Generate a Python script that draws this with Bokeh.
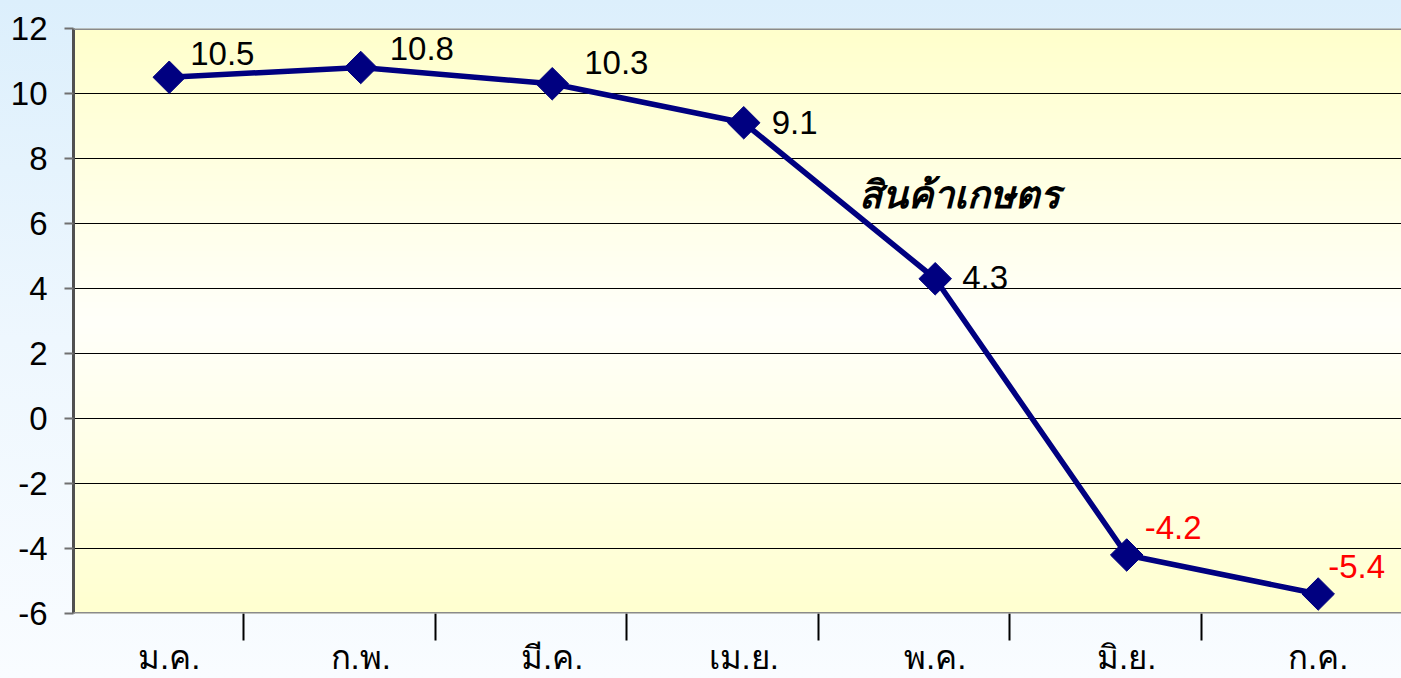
import numpy as np
from bokeh.plotting import figure
from bokeh.models import Range1d, FixedTicker, Span, Label, ColumnDataSource
from bokeh.core.properties import value
from bokeh.embed import file_html
from bokeh.resources import INLINE

# ---- data ----
months = ["ม.ค.", "ก.พ.", "มี.ค.", "เม.ย.", "พ.ค.", "มิ.ย.", "ก.ค."]
growth = [10.5, 10.8, 10.3, 9.1, 4.3, -4.2, -5.4]
labels = ["10.5", "10.8", "10.3", "9.1", "4.3", "-4.2", "-5.4"]
series_name = "สินค้าเกษตร"
y_ticks = [-6, -4, -2, 0, 2, 4, 6, 8, 10, 12]

# ---- label layout (screen pixels) ----
label_dx = [21, 29, 32, 28, 27, 18, 10]
label_dy = [-24, -19, -21, 0, -1, -28, -28]

xs = list(range(len(months)))
label_colors = ["black" if v >= 0 else "#ff0000" for v in growth]

src = ColumnDataSource(dict(x=xs, y=growth, lab=labels, dx=label_dx, dy=label_dy, col=label_colors))

p = figure(width=1401, height=678, output_backend="svg", toolbar_location=None,
           x_range=Range1d(-0.5, 6.435), y_range=Range1d(-6, 12),
           min_border_left=73, min_border_right=0, min_border_top=28, min_border_bottom=65)

p.styles = {"background": "linear-gradient(to bottom, #dceffc 0%, #eef7fe 50%, #f9fcff 100%)"}
p.border_fill_alpha = 0
p.background_fill_alpha = 0
p.outline_line_color = None

# plot-area gradient (yellow top / near-white middle / yellow bottom)
n = 300
t = np.linspace(0, 1, n)  # 0 = bottom (-6), 1 = top (12)
mid = 0.5
blue = np.where(t < mid, 208 + (250 - 208) * (t / mid), 250 - (250 - 204) * ((t - mid) / (1 - mid)))
img = np.zeros((n, 1), dtype=np.uint32)
view = img.view(dtype=np.uint8).reshape((n, 1, 4))
view[:, 0, 0] = 255
view[:, 0, 1] = 255
view[:, 0, 2] = blue.astype(np.uint8)
view[:, 0, 3] = 255
p.image_rgba(image=[img], x=-0.5, y=-6, dw=6.935, dh=18, level="image")

# grid
p.xgrid.visible = False
p.ygrid.ticker = FixedTicker(ticks=[-4, -2, 0, 2, 4, 6, 8, 10])
p.ygrid.grid_line_color = "black"
p.ygrid.grid_line_width = 1

p.add_layout(Span(location=12, dimension="width", line_color="#8a8a8a", line_width=3))
p.add_layout(Span(location=-6, dimension="width", line_color="#8a8a8a", line_width=3))

# y axis
p.yaxis.ticker = FixedTicker(ticks=y_ticks)
p.yaxis.major_label_overrides = {t_: str(t_) for t_ in y_ticks}
p.yaxis.axis_line_color = "#505050"
p.yaxis.axis_line_width = 3
p.yaxis.major_tick_line_color = "#707070"
p.yaxis.major_tick_line_width = 2
p.yaxis.major_tick_in = 0
p.yaxis.major_tick_out = 9
p.yaxis.minor_tick_line_color = None
p.yaxis.major_label_text_font = "Liberation Sans"
p.yaxis.major_label_text_font_size = "33px"
p.yaxis.major_label_text_color = "black"
p.yaxis.major_label_standoff = 17

# x axis
p.xaxis.ticker = FixedTicker(ticks=xs, minor_ticks=[i + 0.39 for i in range(6)])
p.xaxis.major_label_overrides = {i: m for i, m in enumerate(months)}
p.xaxis.axis_line_color = None
p.xaxis.major_tick_line_color = None
p.xaxis.minor_tick_line_color = "black"
p.xaxis.minor_tick_line_width = 2
p.xaxis.minor_tick_in = 0
p.xaxis.minor_tick_out = 27
p.xaxis.major_label_text_font = "Liberation Sans"
p.xaxis.major_label_text_font_size = "33px"
p.xaxis.major_label_text_color = "black"
p.xaxis.major_label_standoff = -2

# series
p.line("x", "y", source=src, line_color="#000080", line_width=5.5)
p.scatter("x", "y", source=src, marker="square", angle=np.pi / 4, size=23,
          fill_color="#000080", line_color="#000080")
p.text("x", "y", text="lab", source=src, x_offset="dx", y_offset="dy",
       text_color="col", text_font=value("Liberation Sans"), text_font_size="33px",
       text_align="left", text_baseline="middle")

p.add_layout(Label(x=4.125, y=6.95, text=series_name, text_font="Noto Sans",
                   text_font_size="38px", text_font_style="bold italic",
                   text_align="center", text_baseline="middle", text_color="black"))
p.add_layout(Label(x=-0.78, y=3.3, text=".", text_font_size="12px", text_color="black",
                   text_align="center", text_baseline="middle"))

open("out.html", "w").write(file_html(p, INLINE))
